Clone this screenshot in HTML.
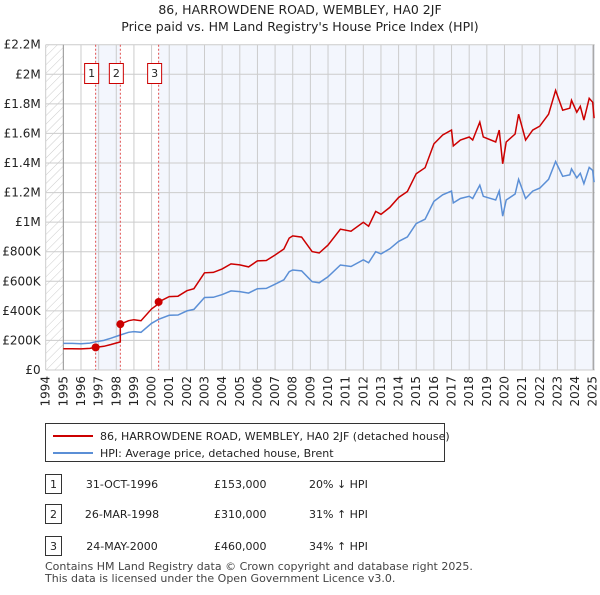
<!DOCTYPE html>
<html><head><meta charset="utf-8"><style>
body{margin:0;background:#fff;font-family:"Liberation Sans","DejaVu Sans",sans-serif;}
svg text{font-family:"DejaVu Sans","Liberation Sans",sans-serif;}
</style></head><body>
<svg id="c" width="600" height="590" viewBox="0 0 600 590" xmlns="http://www.w3.org/2000/svg">
<defs><pattern id="hatch" width="6" height="6" patternUnits="userSpaceOnUse" patternTransform="rotate(45)"><line x1="0" y1="0" x2="0" y2="6" stroke="#ccc" stroke-width="1"/></pattern></defs>
<text x="300" y="14" text-anchor="middle" font-size="12.5" fill="#222">86, HARROWDENE ROAD, WEMBLEY, HA0 2JF</text>
<text x="300" y="31" text-anchor="middle" font-size="12.5" fill="#222">Price paid vs. HM Land Registry's House Price Index (HPI)</text>
<g id="plot"></g>
<g>
<rect x="45.5" y="423.5" width="399" height="38" fill="#fff" stroke="#333"/>
<line x1="53" y1="436" x2="93" y2="436" stroke="#cc0000" stroke-width="2"/>
<text x="100" y="440" font-size="11" fill="#222">86, HARROWDENE ROAD, WEMBLEY, HA0 2JF (detached house)</text>
<line x1="53" y1="453" x2="93" y2="453" stroke="#5b8fd6" stroke-width="2"/>
<text x="100" y="457" font-size="11" fill="#222">HPI: Average price, detached house, Brent</text>
</g>
<g id="tbl"></g>
<text x="45" y="570" font-size="11" fill="#444">Contains HM Land Registry data © Crown copyright and database right 2025.</text>
<text x="45" y="582" font-size="11" fill="#444">This data is licensed under the Open Government Licence v3.0.</text>
</svg>
<script>
const hpiYears=[1995,1995.5,1996,1996.5,1996.83,1997.3,1997.7,1998.23,1998.7,1999,1999.4,2000,2000.4,2001,2001.5,2002,2002.4,2003,2003.5,2004,2004.5,2005,2005.5,2006,2006.5,2007,2007.5,2007.8,2008,2008.5,2009.1,2009.5,2010,2010.7,2011.3,2012,2012.3,2012.7,2013,2013.5,2014,2014.5,2015,2015.5,2016,2016.5,2017,2017.1,2017.5,2018,2018.2,2018.6,2018.8,2019.5,2019.7,2019.9,2020.1,2020.6,2020.8,2021.2,2021.6,2022,2022.5,2022.9,2023.3,2023.7,2023.8,2024.1,2024.3,2024.5,2024.8,2025.0,2025.08];
const hpiValues=[180,180,178,182,191,200,215,237,255,260,255,316,343,370,372,400,410,490,492,510,535,530,520,550,552,580,610,665,676,670,597,590,630,710,700,745,725,800,785,820,870,900,990,1020,1140,1185,1210,1130,1160,1175,1160,1250,1175,1150,1210,1040,1150,1190,1290,1160,1210,1230,1290,1410,1310,1320,1360,1300,1330,1260,1370,1350,1270];
const saleYears=[1996.83,1998.23,2000.4];
const salePrices=[153000,310000,460000];
const saleDates=["31-OCT-1996","26-MAR-1998","24-MAY-2000"];
const salePriceLabels=["£153,000","£310,000","£460,000"];
const saleHpiLabels=["20% ↓ HPI","31% ↑ HPI","34% ↑ HPI"];
const yTicks=[0,200,400,600,800,1000,1200,1400,1600,1800,2000,2200];
const yTickLabels=["£0","£200K","£400K","£600K","£800K","£1M","£1.2M","£1.4M","£1.6M","£1.8M","£2M","£2.2M"];
const xTicks=[1994,1995,1996,1997,1998,1999,2000,2001,2002,2003,2004,2005,2006,2007,2008,2009,2010,2011,2012,2013,2014,2015,2016,2017,2018,2019,2020,2021,2022,2023,2024,2025];

const NS="http://www.w3.org/2000/svg";
const X0=45.7,X1=592.7,Y0=370,Y1=44.7;
const xs=y=>X0+(y-1994)/(2025-1994)*(X1-X0);
const ys=v=>Y0-v/2200*(Y0-Y1);
const plot=document.getElementById('plot');
function mk(tag,attrs,parent){const e=document.createElementNS(NS,tag);for(const k in attrs)e.setAttribute(k,attrs[k]);(parent||plot).appendChild(e);return e;}
function hpiAt(t){for(let i=1;i<hpiYears.length;i++){if(t<=hpiYears[i]){const f=(t-hpiYears[i-1])/(hpiYears[i]-hpiYears[i-1]);return hpiValues[i-1]+f*(hpiValues[i]-hpiValues[i-1]);}}return hpiValues[hpiValues.length-1];}

let e;
e=mk('rect',{x:X0,y:Y1,width:X1-X0+2,height:Y0-Y1,fill:'#fff'});


e=mk('rect',{x:xs(saleYears[0]),y:Y1,width:xs(saleYears[1])-xs(saleYears[0]),height:Y0-Y1,fill:'#f3f6fd'});


e=mk('rect',{x:xs(saleYears[2]),y:Y1,width:X1-xs(saleYears[2])+2,height:Y0-Y1,fill:'#f3f6fd'});


e=mk('rect',{x:X0,y:Y1,width:xs(1995)-X0,height:Y0-Y1,fill:'url(#hatch)'});


yTicks.forEach((v,i)=>{
 e=mk('line',{x1:X0,x2:X1+2,y1:ys(v),y2:ys(v),stroke:'#ccc','stroke-width':1});
 
 
 e=mk('text',{x:X0-5,y:ys(v)+4,'text-anchor':'end','font-size':12,fill:'#222'});
 e.textContent=yTickLabels[i];
 
 
});
xTicks.forEach(t=>{
 e=mk('line',{x1:xs(t),x2:xs(t),y1:Y1,y2:Y0,stroke:'#ccc','stroke-width':1});
 
 
 e=mk('text',{x:0,y:0,'text-anchor':'end','font-size':12,fill:'#222',transform:`translate(${xs(t)+4},${Y0+6}) rotate(-90)`});
 e.textContent=t;
 
 
});
e=mk('line',{x1:xs(1995),x2:xs(1995),y1:Y1,y2:Y0,stroke:'#999'});


e=mk('line',{x1:X1+1,x2:X1+1,y1:Y1,y2:Y0,stroke:'#999'});


saleYears.forEach((t,i)=>{
 e=mk('line',{x1:xs(t),x2:xs(t),y1:Y1,y2:Y0,stroke:'#e05050','stroke-dasharray':'2,2','stroke-width':1});
 
 
 const bx=xs(t)-4;
 e=mk('rect',{x:bx-7,y:63.5,width:14,height:20,fill:'#fff',stroke:'#cc0000'});
 
 
 e=mk('text',{x:bx,y:77,'text-anchor':'middle','font-size':11,fill:'#222'});
 e.textContent=i+1;
 
 
});
// HPI line
let d='';
hpiYears.forEach((t,i)=>{d+=(i?'L':'M')+xs(t).toFixed(1)+','+ys(hpiValues[i]).toFixed(1);});
e=mk('path',{d:d,fill:'none',stroke:'#5b8fd6','stroke-width':1.5});


// Property line indexed from most recent sale
function saleIdx(t){let k=0;for(let j=0;j<saleYears.length;j++)if(t>=saleYears[j])k=j;return k;}
const pts=[...hpiYears];saleYears.forEach(s=>{pts.push(s-0.001);pts.push(s);});pts.sort((a,b)=>a-b);
d='';
pts.forEach((t,i)=>{const k=saleIdx(t);const v=salePrices[k]/1000*hpiAt(t)/hpiAt(saleYears[k]);d+=(i?'L':'M')+xs(t).toFixed(1)+','+ys(v).toFixed(1);});
e=mk('path',{d:d,fill:'none',stroke:'#cc0000','stroke-width':1.5});


saleYears.forEach((t,i)=>{
 e=mk('circle',{cx:xs(t),cy:ys(salePrices[i]/1000),r:4,fill:'#cc0000'});
 
 
});
// table
const tbl=document.getElementById('tbl');
const rowsY=[486,516,548];
saleDates.forEach((dt,i)=>{
 const y=rowsY[i];
 e=mk('rect',{x:45.5,y:y-11.5,width:16,height:19,fill:'#fff',stroke:'#333'},tbl);
 
 
 e=mk('text',{x:53.5,y:y+2,'text-anchor':'middle','font-size':11,fill:'#222'},tbl);e.textContent=i+1;
 
 
 e=mk('text',{x:122,y:y+2,'text-anchor':'middle','font-size':11,fill:'#222'},tbl);e.textContent=dt;
 
 
 e=mk('text',{x:214,y:y+2,'font-size':11,fill:'#222'},tbl);e.textContent=salePriceLabels[i];
 
 
 e=mk('text',{x:309,y:y+2,'font-size':11,fill:'#222'},tbl);e.textContent=saleHpiLabels[i];
 
 
});
</script>
</body></html>
